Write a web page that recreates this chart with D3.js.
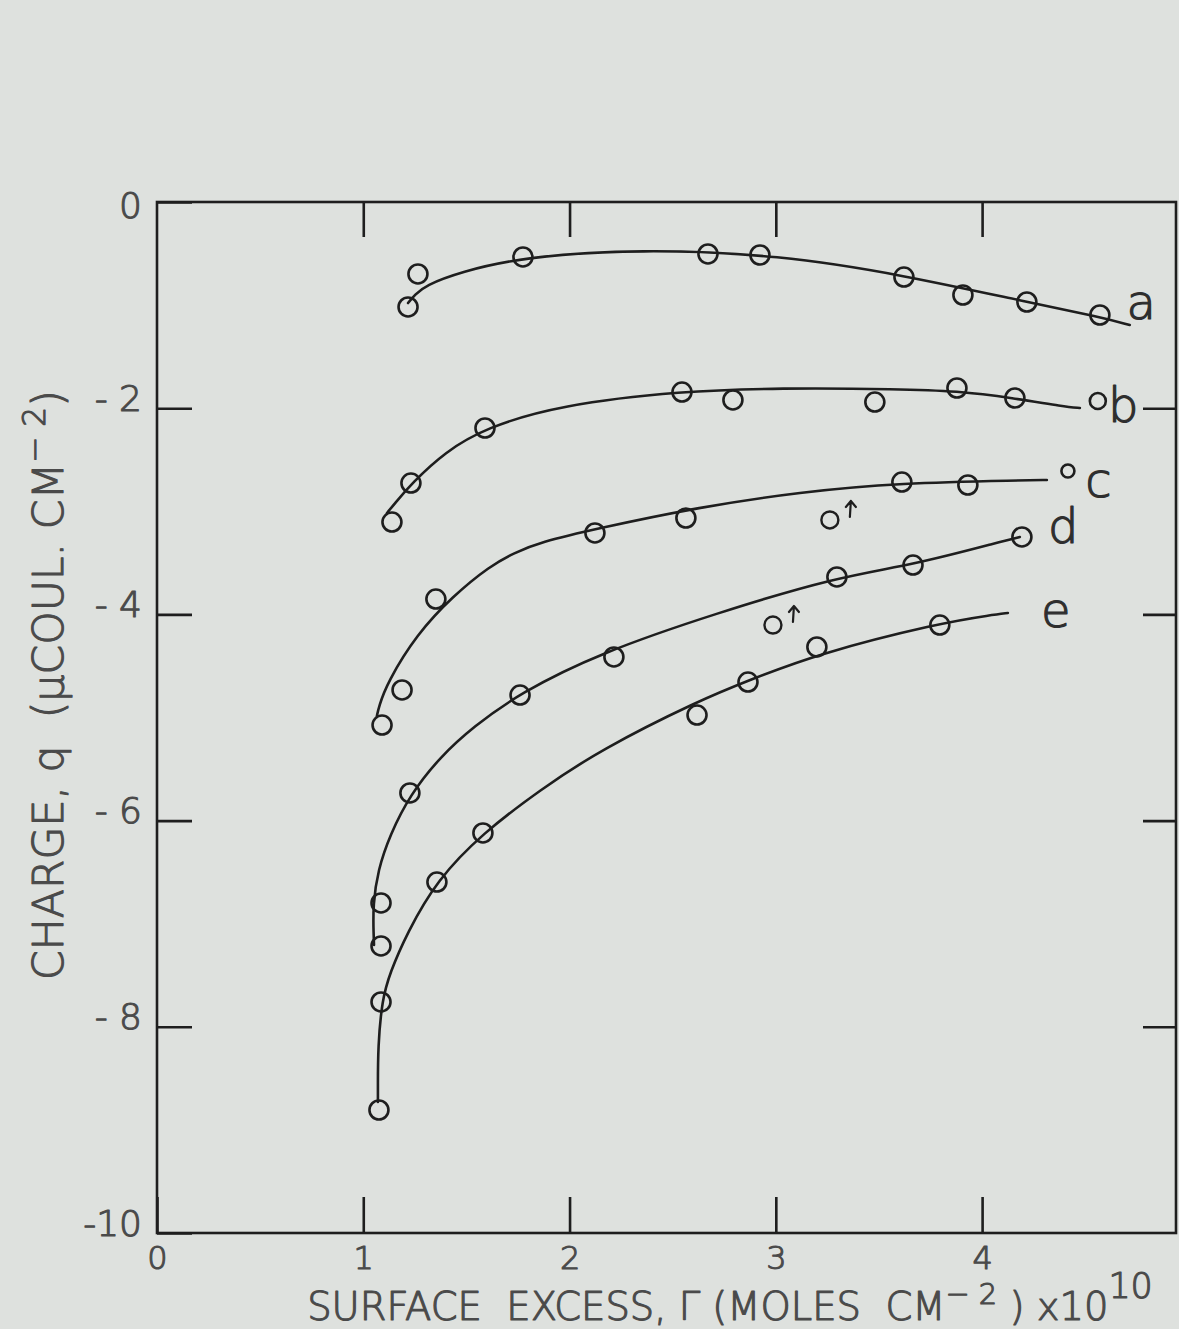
<!DOCTYPE html>
<html>
<head>
<meta charset="utf-8">
<script src="https://cdn.jsdelivr.net/npm/d3@7"></script>
<style>
  html, body { margin: 0; padding: 0; background: #dee1de; }
  svg { display: block; }
  text { font-family: "DejaVu Sans", sans-serif; white-space: pre; font-weight: 200; }
</style>
</head>
<body>
<svg id="chart" width="1179" height="1329"></svg>
<script>
// ---------- data ----------
const xTickValues = [0, 1, 2, 3, 4];
const xTickLabels = ["0", "1", "2", "3", "4"];
const yTickValues = [0, -2, -4, -6, -8, -10];
const yTickLabels = ["0", "- 2", "- 4", "- 6", "- 8", "-10"];
const seriesNames = ["a", "b", "c", "d", "e"];

// measured points  [surface excess, charge]
const pointsA = [[1.217,-1.018],[1.265,-0.698],[1.774,-0.533],[2.671,-0.504],[2.923,-0.514],[3.621,-0.728],[3.907,-0.902],[4.217,-0.970],[4.571,-1.096]];
const pointsB = [[1.139,-3.104],[1.231,-2.726],[1.590,-2.192],[2.545,-1.843],[2.792,-1.920],[3.480,-1.940],[3.878,-1.804],[4.159,-1.901],[4.561,-1.930]];
const pointsC = [[1.091,-5.073],[1.188,-4.733],[1.352,-3.851],[2.123,-3.210],[2.564,-3.065],[3.611,-2.716],[3.931,-2.745],[4.416,-2.609]];
const pointsD = [[1.086,-7.216],[1.086,-6.799],[1.226,-5.732],[1.760,-4.782],[2.215,-4.413],[3.296,-3.637],[3.665,-3.521],[4.193,-3.249]];
const pointsE = [[1.076,-8.807],[1.086,-7.759],[1.357,-6.596],[1.580,-6.120],[2.618,-4.976],[2.865,-4.656],[3.199,-4.316],[3.795,-4.103]];
// points flagged with an upward arrow
const arrowPoints = [[3.262,-3.084],[2.986,-4.103]];

// hand-drawn fitted curves (control points)
const curveA = [[1.217,-0.980],[1.250,-0.900],[1.300,-0.810],[1.469,-0.679],[1.774,-0.533],[2.341,-0.456],[3.020,-0.514],[3.616,-0.708],[4.217,-0.970],[4.571,-1.115],[4.716,-1.193]];
const curveB = [[1.115,-3.016],[1.150,-2.930],[1.236,-2.726],[1.396,-2.425],[1.590,-2.192],[1.953,-1.969],[2.545,-1.833],[3.020,-1.804],[3.602,-1.814],[3.878,-1.833],[4.149,-1.901],[4.400,-1.985],[4.474,-1.998]];
const curveC = [[1.066,-4.985],[1.075,-4.900],[1.115,-4.665],[1.260,-4.190],[1.435,-3.821],[1.614,-3.530],[1.735,-3.400],[1.857,-3.300],[2.123,-3.171],[2.632,-2.958],[3.117,-2.813],[3.602,-2.725],[4.200,-2.700],[4.314,-2.696]];
const curveD = [[1.052,-7.207],[1.050,-7.100],[1.047,-6.819],[1.071,-6.479],[1.129,-6.140],[1.226,-5.752],[1.372,-5.383],[1.532,-5.092],[1.760,-4.762],[2.147,-4.374],[2.714,-3.986],[3.296,-3.637],[3.665,-3.521],[4.100,-3.290],[4.183,-3.249]];
const curveE = [[1.071,-8.730],[1.071,-8.600],[1.071,-8.196],[1.091,-7.740],[1.129,-7.478],[1.212,-7.090],[1.357,-6.576],[1.580,-6.120],[1.857,-5.703],[2.147,-5.315],[2.632,-4.830],[2.874,-4.636],[3.199,-4.384],[3.795,-4.083],[4.050,-4.005],[4.125,-3.986]];

// curve label anchors [x, y] in data units
const labelAnchors = [[4.700,-1.13],[4.610,-2.13],[4.500,-2.86],[4.320,-3.31],[4.285,-4.12]];

const allPoints = [pointsA, pointsB, pointsC, pointsD, pointsE];
const allCurves = [curveA, curveB, curveC, curveD, curveE];

// ---------- drawing ----------
const svg = d3.select("#chart");
const ink = "#1e1e1e";
const textInk = "#4a4a4a";

const x = d3.scaleLinear().domain([0, 4.94]).range([157, 1176]);
const y = d3.scaleLinear().domain([-10, 0]).range([1233, 202]);

// helper: a light face thickened with a thin outline, like drawn lettering
function inked(sel, w, col) {
  return sel.attr("fill", col).attr("stroke", col).attr("stroke-width", w)
    .attr("stroke-linejoin", "round");
}

// frame
svg.append("rect")
  .attr("x", x(0)).attr("y", y(0))
  .attr("width", x(4.94) - x(0)).attr("height", y(-10) - y(0))
  .attr("fill", "none").attr("stroke", ink).attr("stroke-width", 2.6);

// left axis (ticks inward + labels)
const gLeft = svg.append("g").attr("transform", `translate(${x(0)},0)`)
  .call(d3.axisLeft(y).tickValues(yTickValues).tickSize(-35).tickPadding(15)
    .tickFormat((d, i) => yTickLabels[i]));
// bottom axis
const gBottom = svg.append("g").attr("transform", `translate(0,${y(-10)})`)
  .call(d3.axisBottom(x).tickValues(xTickValues).tickSize(-36).tickPadding(13)
    .tickFormat((d, i) => xTickLabels[i]));
// top axis (ticks only)
const gTop = svg.append("g").attr("transform", `translate(0,${y(0)})`)
  .call(d3.axisTop(x).tickValues(xTickValues.slice(1)).tickSize(-35).tickFormat(""));
// right axis (ticks only)
const gRight = svg.append("g").attr("transform", `translate(${x(4.94)},0)`)
  .call(d3.axisRight(y).tickValues(yTickValues.slice(1, 5)).tickSize(-33).tickFormat(""));

[gLeft, gBottom, gTop, gRight].forEach(g => {
  g.select(".domain").remove();
  g.selectAll(".tick line").attr("stroke", ink).attr("stroke-width", 2.6);
  inked(g.selectAll(".tick text"), 1.1, textInk)
    .style("font-family", "'DejaVu Sans', sans-serif").style("font-weight", 200);
});
gLeft.selectAll(".tick text")
  .attr("dy", d => d === 0 ? 15 : 2)
  .style("font-size", "36px");
gBottom.selectAll(".tick text").style("font-size", "32px");

// axis titles, sized to the span they take in the picture
function fitTitle(sel, target) {
  const w = sel.node().getComputedTextLength();
  const k = target / w;
  sel.style("font-size", (parseFloat(sel.style("font-size")) * k) + "px");
  sel.selectAll("tspan").each(function () {
    const t = d3.select(this);
    const fs = this.style.fontSize;
    if (fs) t.style("font-size", (parseFloat(fs) * k) + "px");
    const dy = t.attr("dy");
    if (dy) t.attr("dy", parseFloat(dy) * k);
  });
}

const yTitle = svg.append("text")
  .attr("transform", `translate(63,685) rotate(-90)`)
  .attr("text-anchor", "middle")
  .style("font-size", "34px");
inked(yTitle, 1.1, textInk);
yTitle.append("tspan").text("CHARGE, q  (\u03BCCOUL. CM");
yTitle.append("tspan").attr("dy", -14).style("font-size", "25px").text("\u2212 2");
yTitle.append("tspan").attr("dy", 14).text(")");
fitTitle(yTitle, 590);

const xTitle = svg.append("text")
  .attr("x", 730).attr("y", 1320)
  .attr("text-anchor", "middle")
  .style("font-size", "32px");
inked(xTitle, 1.1, textInk);
xTitle.append("tspan").text("SURFACE  EXCESS, \u0393 (MOLES  CM");
xTitle.append("tspan").attr("dy", -13).style("font-size", "24px").text("\u2212 2");
xTitle.append("tspan").attr("dy", 13).text(" ) x10");
xTitle.append("tspan").attr("dy", -18).style("font-size", "29px").text("10");
fitTitle(xTitle, 846);

// fitted curves
const line = d3.line().x(d => x(d[0])).y(d => y(d[1])).curve(d3.curveBasis);
svg.append("g").selectAll("path").data(allCurves).join("path")
  .attr("d", line)
  .attr("fill", "none").attr("stroke", ink).attr("stroke-width", 2.6)
  .attr("stroke-linecap", "round");

// data points
allPoints.forEach((pts, si) => {
  svg.append("g").selectAll("circle").data(pts).join("circle")
    .attr("cx", d => x(d[0])).attr("cy", d => y(d[1]))
    .attr("r", (d, i) => ((si === 1 || si === 2) && i === pts.length - 1) ? (si === 2 ? 6.5 : 8) : 9.5)
    .attr("fill", "none").attr("stroke", ink).attr("stroke-width", 2.6);
});

// flagged points with an upward arrow
const ga = svg.append("g");
ga.selectAll("circle").data(arrowPoints).join("circle")
  .attr("cx", d => x(d[0])).attr("cy", d => y(d[1]))
  .attr("r", 8.5).attr("fill", "none").attr("stroke", ink).attr("stroke-width", 2.4);
ga.selectAll("path").data(arrowPoints).join("path")
  .attr("d", d => {
    const cx = x(d[0]) + 20, cy = y(d[1]);
    const p = d3.path();
    p.moveTo(cx, cy - 3); p.lineTo(cx + 1, cy - 19);
    p.moveTo(cx - 4, cy - 13); p.lineTo(cx + 1, cy - 19); p.lineTo(cx + 6, cy - 13);
    return p.toString();
  })
  .attr("fill", "none").attr("stroke", ink).attr("stroke-width", 2.2)
  .attr("stroke-linecap", "round").attr("stroke-linejoin", "round");

// curve labels
inked(svg.append("g").selectAll("text").data(seriesNames).join("text")
  .attr("x", (d, i) => x(labelAnchors[i][0]))
  .attr("y", (d, i) => y(labelAnchors[i][1]))
  .style("font-size", "48px")
  .text(d => d), 1.2, "#2e2e2e");
</script>
</body>
</html>
